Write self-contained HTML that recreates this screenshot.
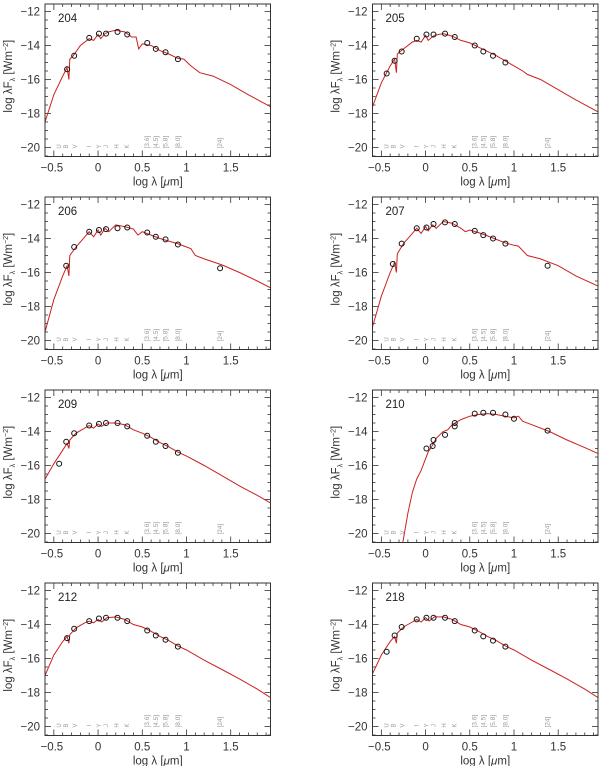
<!DOCTYPE html>
<html><head><meta charset="utf-8"><style>
html,body{margin:0;padding:0;background:#fff;}
svg{display:block;}
text{font-family:"Liberation Sans",sans-serif;}
</style></head><body>
<svg id="fig" width="600" height="766" viewBox="0 0 600 766" xmlns="http://www.w3.org/2000/svg"></svg>
<script>
const panelIds = ["204","205","206","207","209","210","212","218"];
const xTicks = [-0.5,0,0.5,1,1.5];
const xTickLabels = ["\u22120.5","0","0.5","1","1.5"];
const yTicks = [-12,-14,-16,-18,-20];
const yTickLabels = ["\u221212","\u221214","\u221216","\u221218","\u221220"];
const filterNames = ["U","B","V","I","Y","J","H","K"];
const filterPos = [-0.44,-0.36,-0.26,-0.1,0.01,0.09,0.21,0.33];
const iracNames = ["[3.6]","[4.5]","[5.8]","[8.0]","[24]"];
const iracPos = [0.556,0.653,0.763,0.903,1.38];

const model204 = [[-0.6,-18.5],[-0.5,-16.9],[-0.4,-15.8],[-0.35,-15.3],[-0.33,-16.0],[-0.32,-14.8],[-0.28,-14.6],[-0.2,-14.0],[-0.1,-13.6],[-0.05,-13.7],[0,-13.35],[0.03,-13.6],[0.08,-13.3],[0.12,-13.2],[0.2,-13.1],[0.3,-13.2],[0.38,-13.5],[0.43,-13.5],[0.46,-14.2],[0.5,-13.9],[0.6,-14.0],[0.7,-14.3],[0.8,-14.5],[0.9,-14.75],[0.97,-14.8],[1.05,-15.2],[1.15,-15.6],[1.3,-15.8],[1.5,-16.3],[1.7,-16.9],[1.95,-17.6]];
const obs204 = [[-0.35,-15.4],[-0.27,-14.6],[-0.1,-13.55],[0.01,-13.3],[0.09,-13.3],[0.22,-13.2],[0.33,-13.35],[0.556,-13.85],[0.653,-14.2],[0.763,-14.4],[0.903,-14.8]];
const model205 = [[-0.6,-17.6],[-0.5,-16.2],[-0.4,-15.2],[-0.35,-14.8],[-0.33,-15.6],[-0.32,-14.5],[-0.25,-14.2],[-0.15,-13.8],[-0.1,-13.7],[-0.05,-13.8],[0,-13.4],[0.03,-13.7],[0.1,-13.4],[0.2,-13.3],[0.3,-13.45],[0.4,-13.7],[0.5,-13.85],[0.6,-14.1],[0.7,-14.35],[0.8,-14.6],[0.9,-14.9],[1.0,-15.2],[1.1,-15.5],[1.15,-15.7],[1.3,-16.0],[1.5,-16.6],[1.7,-17.2],[1.95,-17.9]];
const obs205 = [[-0.44,-15.65],[-0.35,-14.9],[-0.27,-14.35],[-0.1,-13.6],[0.01,-13.35],[0.09,-13.35],[0.22,-13.3],[0.33,-13.5],[0.556,-14.0],[0.653,-14.35],[0.763,-14.6],[0.903,-15.0]];
const model206 = [[-0.6,-19.5],[-0.5,-17.6],[-0.4,-16.2],[-0.35,-15.6],[-0.33,-16.2],[-0.32,-15.0],[-0.25,-14.5],[-0.15,-13.9],[-0.1,-13.6],[-0.05,-13.9],[0,-13.5],[0.03,-13.8],[0.08,-13.4],[0.12,-13.6],[0.2,-13.2],[0.3,-13.3],[0.4,-13.45],[0.45,-13.8],[0.5,-13.6],[0.6,-13.8],[0.7,-14.0],[0.8,-14.15],[0.9,-14.3],[1.0,-14.5],[1.05,-14.6],[1.1,-15.0],[1.2,-15.2],[1.4,-15.55],[1.6,-16.0],[1.8,-16.5],[1.95,-16.9]];
const obs206 = [[-0.36,-15.6],[-0.27,-14.5],[-0.1,-13.6],[0.01,-13.5],[0.09,-13.45],[0.22,-13.4],[0.33,-13.35],[0.556,-13.65],[0.653,-13.9],[0.763,-14.05],[0.903,-14.35],[1.38,-15.75]];
const model207 = [[-0.6,-19.2],[-0.5,-17.4],[-0.4,-16.0],[-0.35,-15.4],[-0.33,-16.0],[-0.32,-14.9],[-0.25,-14.3],[-0.15,-13.7],[-0.1,-13.4],[-0.05,-13.7],[0,-13.3],[0.03,-13.55],[0.08,-13.2],[0.12,-13.4],[0.2,-13.0],[0.3,-13.1],[0.4,-13.4],[0.45,-13.6],[0.5,-13.5],[0.6,-13.65],[0.7,-13.85],[0.8,-14.05],[0.9,-14.25],[1.0,-14.4],[1.05,-14.45],[1.15,-15.0],[1.3,-15.2],[1.5,-15.6],[1.7,-16.2],[1.95,-16.8]];
const obs207 = [[-0.37,-15.5],[-0.27,-14.3],[-0.1,-13.4],[0.01,-13.35],[0.09,-13.15],[0.22,-13.05],[0.33,-13.15],[0.556,-13.55],[0.653,-13.8],[0.763,-14.0],[0.903,-14.3],[1.38,-15.6]];
const model209 = [[-0.6,-16.8],[-0.5,-15.9],[-0.4,-15.1],[-0.35,-14.7],[-0.33,-15.0],[-0.32,-14.5],[-0.25,-14.1],[-0.15,-13.8],[-0.1,-13.65],[-0.05,-13.8],[0,-13.55],[0.04,-13.7],[0.1,-13.5],[0.2,-13.5],[0.3,-13.6],[0.4,-13.9],[0.5,-14.1],[0.6,-14.35],[0.7,-14.65],[0.8,-14.9],[0.9,-15.2],[1.0,-15.45],[1.2,-16.0],[1.4,-16.6],[1.6,-17.2],[1.8,-17.75],[1.95,-18.2]];
const obs209 = [[-0.44,-15.9],[-0.36,-14.6],[-0.27,-14.1],[-0.1,-13.65],[0.01,-13.55],[0.09,-13.5],[0.22,-13.5],[0.33,-13.7],[0.556,-14.25],[0.653,-14.6],[0.763,-14.85],[0.903,-15.25]];
const model210 = [[-0.26,-20.6],[-0.2,-18.8],[-0.15,-17.6],[-0.1,-16.8],[-0.05,-16.3],[0,-15.6],[0.03,-15.2],[0.08,-14.8],[0.12,-14.4],[0.2,-14.0],[0.25,-13.9],[0.3,-13.6],[0.4,-13.3],[0.5,-13.1],[0.6,-13.0],[0.7,-12.95],[0.8,-13.0],[0.9,-13.1],[1.0,-13.2],[1.05,-13.1],[1.1,-13.4],[1.2,-13.6],[1.4,-14.0],[1.6,-14.5],[1.8,-14.95],[1.95,-15.3]];
const obs210 = [[0.01,-15.0],[0.08,-14.85],[0.09,-14.5],[0.22,-14.2],[0.33,-13.5],[0.33,-13.7],[0.556,-12.95],[0.653,-12.9],[0.763,-12.9],[0.903,-13.0],[1.0,-13.25],[1.38,-13.95]];
const model212 = [[-0.6,-17.0],[-0.5,-15.8],[-0.4,-15.0],[-0.35,-14.7],[-0.33,-15.1],[-0.32,-14.6],[-0.25,-14.2],[-0.15,-13.9],[-0.1,-13.8],[-0.05,-13.9],[0,-13.7],[0.04,-13.85],[0.1,-13.6],[0.2,-13.55],[0.3,-13.7],[0.4,-14.0],[0.5,-14.15],[0.6,-14.4],[0.7,-14.7],[0.8,-14.95],[0.9,-15.25],[1.0,-15.5],[1.2,-16.1],[1.4,-16.65],[1.6,-17.2],[1.8,-17.8],[1.95,-18.3]];
const obs212 = [[-0.35,-14.8],[-0.27,-14.25],[-0.1,-13.8],[0.01,-13.65],[0.09,-13.6],[0.22,-13.6],[0.33,-13.8],[0.556,-14.35],[0.653,-14.65],[0.763,-14.9],[0.903,-15.3]];
const model218 = [[-0.6,-16.9],[-0.5,-15.8],[-0.4,-15.0],[-0.35,-14.7],[-0.33,-15.1],[-0.32,-14.5],[-0.25,-14.15],[-0.15,-13.85],[-0.1,-13.7],[-0.05,-13.85],[0,-13.6],[0.04,-13.8],[0.1,-13.55],[0.2,-13.55],[0.3,-13.7],[0.4,-14.0],[0.5,-14.15],[0.6,-14.4],[0.7,-14.7],[0.8,-14.95],[0.9,-15.25],[1.0,-15.5],[1.2,-16.1],[1.4,-16.65],[1.6,-17.2],[1.8,-17.8],[1.95,-18.3]];
const obs218 = [[-0.44,-15.6],[-0.35,-14.65],[-0.27,-14.15],[-0.1,-13.7],[0.01,-13.6],[0.09,-13.6],[0.22,-13.6],[0.33,-13.8],[0.556,-14.35],[0.653,-14.7],[0.763,-14.95],[0.903,-15.3]];

const models = [model204,model205,model206,model207,model209,model210,model212,model218];
const observations = [obs204,obs205,obs206,obs207,obs209,obs210,obs212,obs218];

const NS = "http://www.w3.org/2000/svg";
const svg = document.getElementById("fig");
const colX = [45, 372.5];
const rowTop = [4, 197, 390, 583];
const W = 225.5, H = 152.5;
const XMIN = -0.6, XMAX = 1.95;
function mk(tag, attrs, parent){
  const e = document.createElementNS(NS, tag);
  for (const k in attrs) e.setAttribute(k, attrs[k]);
  parent.appendChild(e);
  return e;
}

panelIds.forEach((id, i) => {
  const x0 = colX[i % 2], t = rowTop[Math.floor(i / 2)];
  const sx = v => x0 + (v - XMIN) / (XMAX - XMIN) * W;
  const sy = v => t + 7.5 + (-12 - v) * 17;
  const g = mk("g", {}, svg);
  
  
  const clipId = "clip" + id;
  const cp = mk("clipPath", {id: clipId}, g);
  mk("rect", {x: x0, y: t, width: W, height: H}, cp);

  const tk = mk("g", {stroke: "#333", "stroke-width": 0.8}, g);
  
  
  for (let k = -6; k <= 19; k++) {
    const v = k / 10; if (v < XMIN || v > XMAX) continue;
    const major = Math.abs(v * 2 - Math.round(v * 2)) < 1e-6;
    const L = major ? 6 : 3, px = sx(v);
    mk("line", {x1: px, y1: t + H, x2: px, y2: t + H - L}, tk);
    mk("line", {x1: px, y1: t, x2: px, y2: t + L}, tk);
  }
  for (let k = -41; k <= -23; k++) {
    const v = k / 2; const py = sy(v);
    if (py < t || py > t + H) continue;
    const major = (k % 4 === 0);
    const L = major ? 6 : 3;
    mk("line", {x1: x0, y1: py, x2: x0 + L, y2: py}, tk);
    mk("line", {x1: x0 + W, y1: py, x2: x0 + W - L, y2: py}, tk);
  }
  xTicks.forEach((v, j) => {
    const tx = mk("text", {x: sx(v) - (j === 0 ? 2 : 0), y: t + H + 15, "font-size": 11.5, fill: "#333", "text-anchor": "middle"}, g);
    
    
    tx.textContent = xTickLabels[j];
  });
  yTicks.forEach((v, j) => {
    const tx = mk("text", {x: x0 - 5, y: sy(v) + 4, "font-size": 11.5, fill: "#333", "text-anchor": "end"}, g);
    
    
    tx.textContent = yTickLabels[j];
  });
  const xt = mk("text", {x: x0 + W / 2, y: t + H + 29, "font-size": 11.5, fill: "#333", "text-anchor": "middle"}, g);
  
  
  xt.innerHTML = 'log \u03bb [<tspan font-style="italic">\u03bc</tspan>m]';
  const yt = mk("text", {x: 0, y: 0, "font-size": 11.5, fill: "#333", "text-anchor": "middle", transform: `translate(${x0 - 33},${t + H / 2 - 4}) rotate(-90)`}, g);
  
  
  yt.innerHTML = 'log \u03bbF<tspan font-size="7" dy="3">\u03bb</tspan><tspan dy="-3"> [Wm</tspan><tspan font-size="7" dy="-4">\u22122</tspan><tspan dy="4">]</tspan>';
  const pl = mk("text", {x: x0 + 13, y: t + 18, "font-size": 11.5, fill: "#222"}, g);
  
  
  pl.textContent = id;
  filterNames.forEach((n, j) => {
    const px = sx(filterPos[j]), py = sy(-20) - 1;
    const ft = mk("text", {x: 0, y: 0, "font-size": 6, fill: "#999", "text-anchor": "middle", transform: `translate(${px + 2},${py}) rotate(-90)`}, g);
    
    
    ft.textContent = n;
  });
  iracNames.forEach((n, j) => {
    const px = sx(iracPos[j]), py = sy(-20) + 1;
    const ft = mk("text", {x: 0, y: 0, "font-size": 6.5, fill: "#999", "text-anchor": "start", transform: `translate(${px + 2},${py}) rotate(-90)`}, g);
    
    
    ft.textContent = n;
  });
  const d = models[i].map((p, j) => (j ? "L" : "M") + sx(p[0]).toFixed(1) + " " + sy(p[1]).toFixed(1)).join(" ");
  const path = mk("path", {d: d, fill: "none", stroke: "#cc2020", "stroke-width": 1, "clip-path": `url(#${clipId})`}, g);
  
  
  observations[i].forEach(p => {
    const c = mk("circle", {cx: sx(p[0]), cy: sy(p[1]), r: 2.5, fill: "none", stroke: "#111", "stroke-width": 1}, g);
    
    
  });
  const fr = mk("rect", {x: x0, y: t, width: W, height: H, fill: "none", stroke: "#333", "stroke-width": 1}, g);
  
  
});
</script>
</body></html>
